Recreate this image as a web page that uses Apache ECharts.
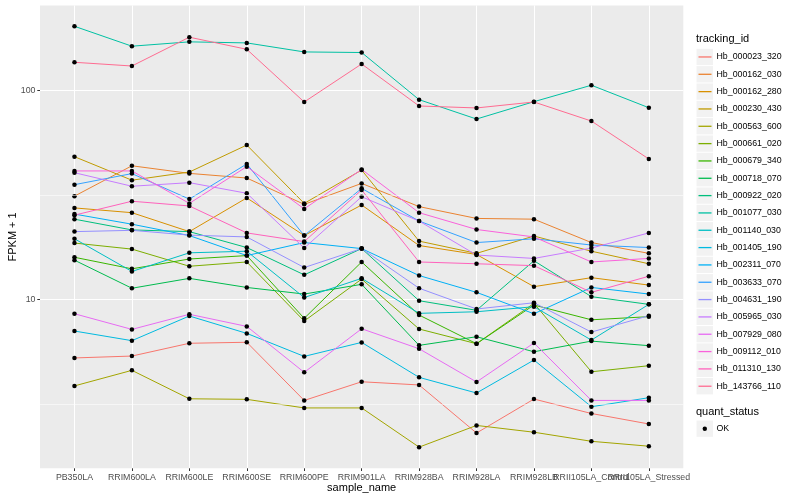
<!DOCTYPE html>
<html><head><meta charset="utf-8">
<script src="https://cdn.jsdelivr.net/npm/echarts@6/dist/echarts.min.js"></script>
<style>html,body{margin:0;padding:0;background:#fff}#c{width:800px;height:500px}</style>
</head><body><div id="c"></div>
<script>
const categories = ["PB350LA","RRIM600LA","RRIM600LE","RRIM600SE","RRIM600PE","RRIM901LA","RRIM928BA","RRIM928LA","RRIM928LB","RRII105LA_Control","RRII105LA_Stressed"];
const trackingIds = ["Hb_000023_320","Hb_000162_030","Hb_000162_280","Hb_000230_430","Hb_000563_600","Hb_000661_020","Hb_000679_340","Hb_000718_070","Hb_000922_020","Hb_001077_030","Hb_001140_030","Hb_001405_190","Hb_002311_070","Hb_003633_070","Hb_004631_190","Hb_005965_030","Hb_007929_080","Hb_009112_010","Hb_011310_130","Hb_143766_110"];
const palette = ["#F8766D","#EA8331","#D89000","#C09B00","#A3A500","#7CAE00","#39B600","#00BB4E","#00BF7D","#00C1A3","#00BFC4","#00BAE0","#00B0F6","#35A2FF","#9590FF","#C77CFF","#E76BF3","#FA62DB","#FF62BC","#FF6C91"];
const yTicks = [10, 100];
const yMinorTicks = [3.162, 31.62];

const Hb_000023_320 = [5.24,5.35,6.16,6.23,3.28,4.03,3.89,2.29,3.33,2.84,2.53];
const Hb_000162_030 = [31.2,43.6,40.1,38.1,28.5,35.9,27.8,24.4,24.2,18.7,16.6];
const Hb_000162_280 = [27.4,26.0,21.1,30.6,20.2,28.3,18.1,16.4,11.5,12.7,11.7];
const Hb_000230_430 = [48.2,37.2,40.7,54.8,28.8,41.6,19.0,16.6,20.1,17.0,14.8];
const Hb_000563_600 = [3.85,4.57,3.34,3.32,3.02,3.02,1.96,2.49,2.31,2.09,1.98];
const Hb_000661_020 = [18.6,17.4,14.4,15.1,7.87,12.5,7.21,6.13,9.57,4.50,4.81];
const Hb_000679_340 = [15.9,14.0,15.6,16.2,8.11,15.1,8.41,6.13,9.39,7.98,8.26];
const Hb_000718_070 = [15.4,11.3,12.6,11.4,10.6,11.8,6.02,6.62,5.61,6.31,6.00];
const Hb_000922_020 = [24.2,21.5,21.1,17.7,13.1,17.5,9.85,8.86,15.3,10.3,9.46];
const Hb_001077_030 = [203,163,171,169,153,152,90.4,73.0,88.4,106,82.7];
const Hb_001140_030 = [19.5,13.6,16.7,17.0,10.2,12.6,8.57,8.72,9.22,6.38,9.46];
const Hb_001405_190 = [7.05,6.34,8.32,6.87,5.33,6.22,4.23,3.56,5.12,3.06,3.38];
const Hb_002311_070 = [25.6,22.9,20.2,16.2,18.7,17.5,13.0,10.8,8.53,11.4,10.6];
const Hb_003633_070 = [35.4,40.0,30.2,44.5,20.2,34.0,23.7,18.7,19.5,18.2,17.7];
const Hb_004631_190 = [21.1,21.4,20.3,19.9,14.2,17.5,11.3,8.99,9.63,6.97,8.35];
const Hb_005965_030 = [40.4,34.8,36.2,32.2,17.6,31.0,23.7,16.3,15.7,17.6,20.8];
const Hb_007929_080 = [8.53,7.18,8.48,7.42,4.47,7.23,5.80,4.02,6.18,3.28,3.28];
const Hb_009112_010 = [41.2,41.2,28.8,43.2,27.1,41.9,26.0,21.6,19.9,15.1,15.7];
const Hb_011310_130 = [25.3,29.5,28.0,20.8,18.9,33.4,15.1,14.8,14.5,10.8,12.9];
const Hb_143766_110 = [136.5,131,180,157.5,88.1,134,84.3,82.5,88.1,71.4,47.0];

const seriesValues = [Hb_000023_320,Hb_000162_030,Hb_000162_280,Hb_000230_430,Hb_000563_600,Hb_000661_020,Hb_000679_340,Hb_000718_070,Hb_000922_020,Hb_001077_030,Hb_001140_030,Hb_001405_190,Hb_002311_070,Hb_003633_070,Hb_004631_190,Hb_005965_030,Hb_007929_080,Hb_009112_010,Hb_011310_130,Hb_143766_110];

const FONT = 'Liberation Sans, Arial, sans-serif';
const chart = echarts.init(document.getElementById('c'), null, {renderer:'canvas'});

const lineSeries = trackingIds.map((name, k) => ({
  type: 'line', name: name,
  data: categories.map((c, i) => [i, seriesValues[k][i]]),
  showSymbol: false, symbol: 'none',
  lineStyle: {color: palette[k], width: 1},
  itemStyle: {color: palette[k]},
  emphasis: {disabled: true}, z: 2, silent: true
}));

const points = [];
seriesValues.forEach(arr => arr.forEach((v, i) => points.push([i, v])));

const gridSeries = {
  type: 'line', name: '_grid', data: [], z: 1, silent: true,
  markLine: {
    silent: true, symbol: ['none','none'], label: {show: false},
    lineStyle: {color: '#FFFFFF', width: 0.55, type: 'solid'},
    emphasis: {disabled: true},
    data: yMinorTicks.map(v => ({yAxis: v}))
  }
};

const pointSeries = {
  type: 'scatter', name: 'OK', data: points, symbol: 'circle', symbolSize: 4.5,
  itemStyle: {color: '#000000', opacity: 1}, z: 3, silent: true, emphasis: {disabled: true}
};

const keyRects = [];
const legendTop = 48.3, itemH = 17.33;
for (let i = 0; i < trackingIds.length; i++) {
  keyRects.push({type: 'rect', left: 696.5, top: legendTop + i*itemH + 0.5, shape: {width: 16.5, height: 16.3}, style: {fill: '#F2F2F2'}, z: 0, silent: true});
}

chart.setOption({
  animation: false,
  backgroundColor: '#FFFFFF',
  textStyle: {fontFamily: FONT},
  grid: {left: 40, right: 116.7, top: 5.5, bottom: 31.7, show: true, backgroundColor: '#EBEBEB', borderWidth: 0, containLabel: false, outerBoundsMode: 'none'},
  xAxis: {
    type: 'value', min: -0.6, max: 10.6, splitNumber: 11, minInterval: 1, maxInterval: 1,
    name: 'sample_name', nameLocation: 'middle', nameGap: 14, nameMoveOverlap: false,
    nameTextStyle: {color: '#000', fontSize: 11, fontFamily: FONT},
    axisLine: {show: false, onZero: false},
    axisTick: {show: true, length: 2.7, lineStyle: {color: '#333333', width: 1}},
    axisLabel: {
      show: true, margin: 4.5, color: '#4D4D4D', fontSize: 8.8, fontFamily: FONT,
      showMinLabel: false, showMaxLabel: false, interval: 0, hideOverlap: false,
      formatter: v => (Math.abs(v - Math.round(v)) < 1e-6 && categories[Math.round(v)] !== undefined) ? categories[Math.round(v)] : ''
    },
    splitLine: {show: true, showMinLine: false, showMaxLine: false, lineStyle: {color: '#FFFFFF', width: 1.07}}
  },
  yAxis: {
    type: 'log', logBase: 10, min: 1.552, max: 255.3,
    name: 'FPKM + 1', nameLocation: 'middle', nameGap: 22, nameRotate: 90, nameMoveOverlap: false,
    nameTextStyle: {color: '#000', fontSize: 11, fontFamily: FONT},
    axisLine: {show: false, onZero: false},
    axisTick: {show: true, length: 2.7, lineStyle: {color: '#333333', width: 1}},
    axisLabel: {
      margin: 4.5, color: '#4D4D4D', fontSize: 8.8, fontFamily: FONT, showMinLabel: false, showMaxLabel: false,
      formatter: v => yTicks.some(t => Math.abs(t - v) / t < 1e-6) ? String(Math.round(v)) : ''
    },
    splitLine: {show: true, showMinLine: false, showMaxLine: false, lineStyle: {color: '#FFFFFF', width: 1.07}},
    minorSplitLine: {show: false}
  },
  legend: {
    orient: 'vertical', left: 698.5, top: legendTop, itemGap: 0, itemWidth: 13, itemHeight: 1.3,
    padding: 0, selectedMode: false,
    textStyle: {fontSize: 8.8, color: '#000', fontFamily: FONT, lineHeight: itemH, padding: [0,0,0,0]},
    data: trackingIds.map((n, k) => ({name: n, icon: 'rect', itemStyle: {color: palette[k], borderWidth: 0}}))
  },
  graphic: keyRects.concat([
    {type: 'text', left: 696, top: 33, style: {text: 'tracking_id', fontSize: 11, fill: '#000', fontFamily: FONT}, silent: true},
    {type: 'text', left: 696, top: 406, style: {text: 'quant_status', fontSize: 11, fill: '#000', fontFamily: FONT}, silent: true},
    {type: 'rect', left: 696.5, top: 420.5, shape: {width: 16.5, height: 16.3}, style: {fill: '#F2F2F2'}, silent: true},
    {type: 'circle', shape: {cx: 704.8, cy: 428.7, r: 2.2}, style: {fill: '#000'}, silent: true},
    {type: 'text', left: 716.5, top: 424.3, style: {text: 'OK', fontSize: 8.8, fill: '#000', fontFamily: FONT}, silent: true}
  ]),
  series: [gridSeries].concat(lineSeries, [pointSeries])
});
</script></body></html>
